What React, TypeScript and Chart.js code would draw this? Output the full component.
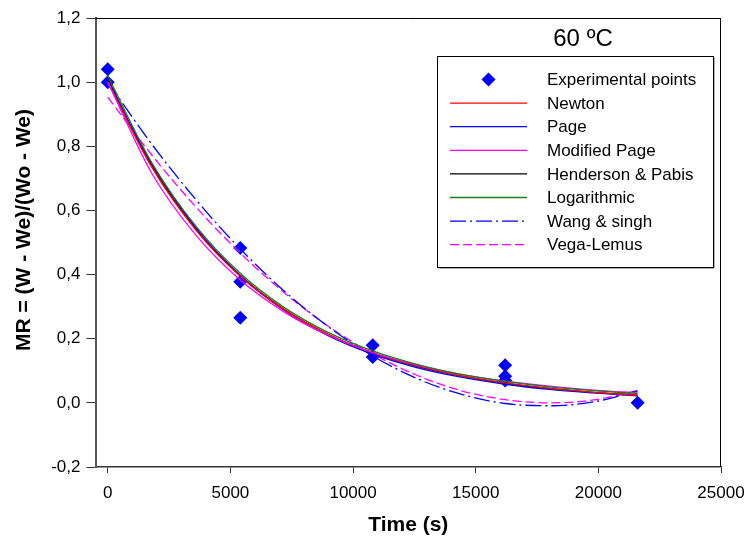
import { useEffect, useRef } from 'react';
import { Chart, registerables } from 'chart.js';

Chart.register(...registerables);

// ---- data ----
const chartTitle = '60 ºC';
const xAxisTitle = 'Time (s)';
const yAxisTitle = 'MR = (W - We)/(Wo - We)';

const xTickValues = [0, 5000, 10000, 15000, 20000, 25000];
const yTickValues = [-0.2, 0, 0.2, 0.4, 0.6, 0.8, 1.0, 1.2];

const expTimes = [0, 0, 5400, 5400, 5400, 10800, 10800, 16200, 16200, 16200, 21600];
const expMR = [1.04, 1.0, 0.483, 0.378, 0.265, 0.18, 0.143, 0.117, 0.083, 0.07, 0.0];

const curveTimes = [0, 1800, 3600, 5400, 7200, 9000, 10800, 12600, 14400, 16200, 18000, 19800, 21600];
const newtonMR = [1.0, 0.734, 0.538, 0.395, 0.29, 0.213, 0.156, 0.115, 0.084, 0.062, 0.045, 0.033, 0.024];
const pageMR = [1.0, 0.745, 0.545, 0.397, 0.288, 0.209, 0.152, 0.11, 0.08, 0.058, 0.042, 0.031, 0.022];
const modifiedPageMR = [1.0, 0.715, 0.522, 0.383, 0.283, 0.21, 0.157, 0.118, 0.089, 0.068, 0.052, 0.04, 0.031];
const hendersonMR = [1.01, 0.74, 0.542, 0.397, 0.291, 0.213, 0.156, 0.114, 0.084, 0.061, 0.045, 0.033, 0.024];
const logarithmicMR = [1.02, 0.748, 0.55, 0.404, 0.297, 0.219, 0.162, 0.12, 0.089, 0.067, 0.05, 0.038, 0.029];
const wangSinghMR = [1.0, 0.806, 0.633, 0.48, 0.348, 0.237, 0.146, 0.076, 0.027, -0.002, -0.009, 0.003, 0.037];
const vegaLemusMR = [0.953, 0.772, 0.61, 0.467, 0.343, 0.238, 0.153, 0.086, 0.038, 0.01, 0.0, 0.009, 0.038];

const seriesLabels = [
  'Experimental points',
  'Newton',
  'Page',
  'Modified Page',
  'Henderson & Pabis',
  'Logarithmic',
  'Wang & singh',
  'Vega-Lemus',
];

const FONT = '"Liberation Sans", Arial, Helvetica, sans-serif';

function toXY(xs: number[], ys: number[]) {
  return xs.map((x, i) => ({ x, y: ys[i] }));
}

function curve(label: string, values: number[], color: string, order: number, dash: number[] = []) {
  return {
    type: 'line' as const,
    label,
    data: toXY(curveTimes, values),
    borderColor: color,
    backgroundColor: color,
    borderWidth: 1.3,
    borderDash: dash,
    pointRadius: 0,
    fill: false,
    cubicInterpolationMode: 'monotone' as const,
    order,
  };
}

const overlayPlugin = {
  id: 'overlay',
  afterDraw(chart: any) {
    const { ctx, chartArea } = chart;
    const { left, right, top, bottom } = chartArea;
    ctx.save();

    // top / right frame
    ctx.strokeStyle = '#000';
    ctx.lineWidth = 1;
    ctx.setLineDash([]);
    ctx.beginPath();
    ctx.moveTo(left, top + 0.5);
    ctx.lineTo(right, top + 0.5);
    ctx.moveTo(right - 0.5, top);
    ctx.lineTo(right - 0.5, bottom);
    ctx.stroke();

    // chart title
    ctx.fillStyle = '#000';
    ctx.textAlign = 'center';
    ctx.textBaseline = 'middle';
    ctx.font = `24px ${FONT}`;
    ctx.fillText(chartTitle, 583, 39);

    // axis titles
    ctx.font = `bold 21px ${FONT}`;
    ctx.fillText(xAxisTitle, (left + right) / 2, 525);
    ctx.save();
    ctx.translate(24, 230);
    ctx.rotate(-Math.PI / 2);
    ctx.fillText(yAxisTitle, 0, 0);
    ctx.restore();

    // legend box
    const bx = 437, by = 56, bw = 276, bh = 211;
    ctx.fillStyle = '#fff';
    ctx.fillRect(bx, by, bw, bh);
    ctx.strokeStyle = '#666';
    ctx.lineWidth = 1;
    ctx.beginPath();
    ctx.moveTo(bx + 1.5, by + bh + 1);
    ctx.lineTo(bx + bw + 1, by + bh + 1);
    ctx.lineTo(bx + bw + 1, by + 1.5);
    ctx.stroke();
    ctx.strokeStyle = '#000';
    ctx.strokeRect(bx + 0.5, by + 0.5, bw, bh);

    const rowY0 = 79.5;
    const rowStep = 23.6;
    const sx0 = 450, sx1 = 527;
    const textX = 547;
    ctx.font = `17px ${FONT}`;
    ctx.textAlign = 'left';
    ctx.textBaseline = 'middle';
    chart.data.datasets.forEach((ds: any, i: number) => {
      const y = rowY0 + i * rowStep;
      if (ds.showLine === false) {
        const cx = (sx0 + sx1) / 2;
        const r = 7;
        ctx.fillStyle = ds.backgroundColor;
        ctx.beginPath();
        ctx.moveTo(cx, y - r);
        ctx.lineTo(cx + r, y);
        ctx.lineTo(cx, y + r);
        ctx.lineTo(cx - r, y);
        ctx.closePath();
        ctx.fill();
      } else {
        ctx.strokeStyle = ds.borderColor;
        ctx.lineWidth = 1.3;
        ctx.setLineDash(ds.borderDash || []);
        ctx.beginPath();
        ctx.moveTo(sx0, y);
        ctx.lineTo(sx1, y);
        ctx.stroke();
        ctx.setLineDash([]);
      }
      ctx.fillStyle = '#000';
      ctx.fillText(ds.label, textX, y + 1);
    });

    ctx.restore();
  },
};

export default function App() {
  const canvasRef = useRef<HTMLCanvasElement | null>(null);

  useEffect(() => {
    document.body.style.margin = '0';
    const canvas = canvasRef.current;
    if (!canvas) return;

    const chart = new Chart(canvas, {
      type: 'line',
      data: {
        datasets: [
          {
            type: 'line',
            label: seriesLabels[0],
            data: toXY(expTimes, expMR),
            showLine: false,
            pointStyle: 'rectRot',
            pointRadius: 7,
            pointHoverRadius: 7,
            backgroundColor: '#0000ff',
            borderColor: '#0000ff',
            pointBorderWidth: 0,
            order: 10,
          } as any,
          curve(seriesLabels[1], newtonMR, '#ff0000', 3),
          curve(seriesLabels[2], pageMR, '#0000ff', 4),
          curve(seriesLabels[3], modifiedPageMR, '#ff00ff', 2),
          curve(seriesLabels[4], hendersonMR, '#000000', 5),
          curve(seriesLabels[5], logarithmicMR, '#1a7d1a', 1),
          curve(seriesLabels[6], wangSinghMR, '#0000ff', 6, [16, 4, 2, 4]),
          curve(seriesLabels[7], vegaLemusMR, '#ff00ff', 6, [9, 4]),
        ],
      },
      options: {
        animation: false,
        responsive: false,
        maintainAspectRatio: false,
        layout: { padding: { top: 18, right: 26, left: 0, bottom: 0 } },
        plugins: {
          legend: { display: false },
          tooltip: { enabled: false },
          title: { display: false },
        },
        scales: {
          x: {
            type: 'linear',
            min: -500,
            max: 25000,
            afterBuildTicks: (scale: any) => {
              scale.ticks = xTickValues.map((v) => ({ value: v }));
            },
            afterFit: (scale: any) => {
              scale.height = 76;
              scale.paddingLeft = 0;
              scale.paddingRight = 0;
            },
            grid: {
              display: true,
              drawOnChartArea: false,
              drawTicks: true,
              tickLength: 6,
              color: '#333',
              lineWidth: 1,
            },
            border: { display: true, color: '#333', width: 1.5 },
            ticks: {
              color: '#000',
              padding: 10,
              maxRotation: 0,
              font: { family: FONT, size: 17 },
              callback: (v: any) => String(v),
            },
          },
          y: {
            type: 'linear',
            min: -0.2,
            max: 1.2,
            afterBuildTicks: (scale: any) => {
              scale.ticks = yTickValues.map((v) => ({ value: v }));
            },
            afterFit: (scale: any) => {
              scale.width = 95.5;
              scale.paddingTop = 0;
              scale.paddingBottom = 0;
            },
            grid: {
              display: true,
              drawOnChartArea: false,
              drawTicks: true,
              tickLength: 9,
              color: '#333',
              lineWidth: 1,
            },
            border: { display: true, color: '#555', width: 2 },
            ticks: {
              color: '#000',
              padding: 6,
              font: { family: FONT, size: 17 },
              callback: (v: any) => Number(v).toFixed(1).replace('.', ','),
            },
          },
        },
      },
      plugins: [overlayPlugin],
    });

    return () => {
      chart.destroy();
    };
  }, []);

  return (
    <div style={{ width: 747, height: 543, position: 'relative' }}>
      <canvas ref={canvasRef} width={747} height={543} style={{ display: 'block', width: 747, height: 543 }} />
    </div>
  );
}
